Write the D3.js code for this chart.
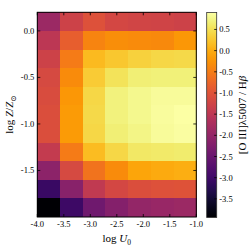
<!DOCTYPE html>
<html>
<head>
<meta charset="utf-8">
<script src="https://cdn.jsdelivr.net/npm/d3@7"></script>
<style>
  body { margin: 0; background: #fff; }
  text { font-family: "Liberation Serif", "DejaVu Serif", serif; }
</style>
</head>
<body>
<div id="chart"></div>
<script>
// cell edges along log U0 (7 columns) and log Z/Zsun (11 rows, top to bottom)
const uEdges = [-4.0, -3.571, -3.143, -2.714, -2.286, -1.857, -1.429, -1.0]
const zEdges = [0.2, 0.0, -0.2, -0.4, -0.6, -0.8, -1.0, -1.2, -1.4, -1.6, -1.8, -2.0]

// log([O III]5007/Hb), one row per metallicity bin (top row first)
const ratio = [
  [-1.91, -1.28, -1.04, -1.18, -1.23, -1.25, -1.28],
  [-1.52, -0.84, -0.41, -0.31, -0.33, -0.36, -0.21],
  [-1.28, -0.50,  0.13,  0.27,  0.37,  0.42,  0.44],
  [-1.16, -0.33,  0.30,  0.54,  0.66,  0.68,  0.68],
  [-1.11, -0.21,  0.42,  0.71,  0.78,  0.83,  0.83],
  [-1.08, -0.16,  0.44,  0.71,  0.78,  0.85,  0.90],
  [-1.08, -0.16,  0.42,  0.66,  0.73,  0.83,  0.88],
  [-1.42, -0.50,  0.15,  0.42,  0.59,  0.61,  0.63],
  [-2.10, -1.16, -0.60, -0.33, -0.07, -0.02,  0.03],
  [-3.07, -2.13, -1.45, -1.18, -1.08, -1.04, -1.01],
  [-3.94, -3.02, -2.44, -2.20, -2.00, -1.95, -1.91]
]

const xTicks = [-4.0, -3.5, -3.0, -2.5, -2.0, -1.5, -1.0]
const yTicks = [0.0, -0.5, -1.0, -1.5]
const cbTicks = [0.5, 0.0, -0.5, -1.0, -1.5, -2.0, -2.5, -3.0, -3.5]
const cbDomain = [-3.94, 0.9]

const width = 249, height = 249
const plot = { left: 37.3, right: 196.3, top: 12.3, bottom: 217 }
const cb = { left: 206.7, right: 216.7, top: 12.5, bottom: 217.5 }

const fmt = d => d3.format(".1f")(d).replace("−", "-")

const svg = d3.select("#chart").append("svg")
  .attr("width", width)
  .attr("height", height)

const x = d3.scaleLinear().domain([-4.0, -1.0]).range([plot.left, plot.right])
const y = d3.scaleLinear().domain([-2.0, 0.2]).range([plot.bottom, plot.top])
const color = d3.scaleSequential(d3.interpolateInferno).domain(cbDomain)

// heatmap cells
const cells = []
ratio.forEach((row, j) => row.forEach((v, i) => cells.push({ i, j, v })))

svg.append("g")
  .selectAll("rect")
  .data(cells)
  .join("rect")
  .attr("x", d => x(uEdges[d.i]))
  .attr("y", d => y(zEdges[d.j]))
  .attr("width", d => x(uEdges[d.i + 1]) - x(uEdges[d.i]) + 0.3)
  .attr("height", d => y(zEdges[d.j + 1]) - y(zEdges[d.j]) + 0.3)
  .attr("fill", d => color(d.v))
  .attr("shape-rendering", "crispEdges")

// inward ticks on all four sides
const tickLen = 3
const axes = svg.append("g").attr("stroke", "#000").attr("stroke-width", 0.8)
xTicks.forEach(t => {
  axes.append("line").attr("x1", x(t)).attr("x2", x(t)).attr("y1", plot.bottom).attr("y2", plot.bottom - tickLen)
  axes.append("line").attr("x1", x(t)).attr("x2", x(t)).attr("y1", plot.top).attr("y2", plot.top + tickLen)
})
yTicks.forEach(t => {
  axes.append("line").attr("y1", y(t)).attr("y2", y(t)).attr("x1", plot.left).attr("x2", plot.left + tickLen)
  axes.append("line").attr("y1", y(t)).attr("y2", y(t)).attr("x1", plot.right).attr("x2", plot.right - tickLen)
})

svg.append("rect")
  .attr("x", plot.left).attr("y", plot.top)
  .attr("width", plot.right - plot.left).attr("height", plot.bottom - plot.top)
  .attr("fill", "none").attr("stroke", "#000").attr("stroke-width", 1)

svg.append("g")
  .attr("font-size", 8.5)
  .attr("text-anchor", "middle")
  .selectAll("text")
  .data(xTicks)
  .join("text")
  .attr("x", d => x(d))
  .attr("y", plot.bottom + 10)
  .text(fmt)

svg.append("g")
  .attr("font-size", 8.5)
  .attr("text-anchor", "end")
  .selectAll("text")
  .data(yTicks)
  .join("text")
  .attr("x", plot.left - 3)
  .attr("y", d => y(d) + 3)
  .text(fmt)

// axis labels
const xl = svg.append("text")
  .attr("x", (plot.left + plot.right) / 2)
  .attr("y", 242)
  .attr("font-size", 11)
  .attr("text-anchor", "middle")
xl.append("tspan").text("log ")
xl.append("tspan").attr("font-style", "italic").text("U")
xl.append("tspan").attr("font-size", 7.5).attr("dy", 2.5).text("0")

const yl = svg.append("text")
  .attr("transform", `translate(13,${(plot.top + plot.bottom) / 2}) rotate(-90)`)
  .attr("font-size", 11)
  .attr("text-anchor", "middle")
yl.append("tspan").text("log ")
yl.append("tspan").attr("font-style", "italic").text("Z")
yl.append("tspan").text("/")
yl.append("tspan").attr("font-style", "italic").text("Z")
yl.append("tspan").attr("font-size", 7.5).attr("dy", 2.5).text("⊙")

// colorbar
const cy = d3.scaleLinear().domain(cbDomain).range([cb.bottom, cb.top])
const grad = svg.append("defs").append("linearGradient")
  .attr("id", "cbgrad")
  .attr("x1", 0).attr("y1", 1).attr("x2", 0).attr("y2", 0)
grad.selectAll("stop")
  .data(d3.range(0, 1.0001, 0.02))
  .join("stop")
  .attr("offset", d => d)
  .attr("stop-color", d => d3.interpolateInferno(d))

svg.append("rect")
  .attr("x", cb.left).attr("y", cb.top)
  .attr("width", cb.right - cb.left).attr("height", cb.bottom - cb.top)
  .attr("fill", "url(#cbgrad)")
  .attr("stroke", "#333").attr("stroke-width", 0.8)

const cbAxis = svg.append("g")
cbAxis.selectAll("line")
  .data(cbTicks)
  .join("line")
  .attr("x1", cb.right - 2.5).attr("x2", cb.right)
  .attr("y1", d => cy(d)).attr("y2", d => cy(d))
  .attr("stroke", "#000").attr("stroke-width", 0.8)
cbAxis.selectAll("text")
  .data(cbTicks)
  .join("text")
  .attr("x", cb.right + 2.5)
  .attr("y", d => cy(d) + 3)
  .attr("font-size", 8.5)
  .text(fmt)

const cl = svg.append("text")
  .attr("transform", `translate(245.5,${(cb.top + cb.bottom) / 2}) rotate(-90)`)
  .attr("font-size", 11)
  .attr("text-anchor", "middle")
cl.append("tspan").text("[O III]λ5007 / H")
cl.append("tspan").attr("font-style", "italic").text("β")
</script>
</body>
</html>
